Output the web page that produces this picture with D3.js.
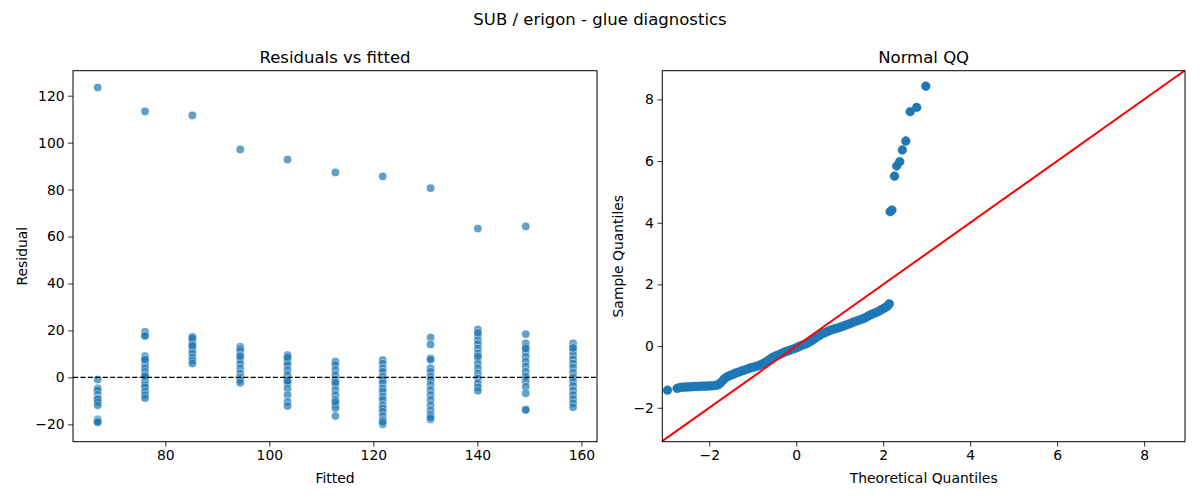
<!DOCTYPE html>
<html>
<head>
<meta charset="utf-8">
<script src="https://cdn.jsdelivr.net/npm/d3@7"></script>
<style>
  html, body { margin: 0; padding: 0; background: #fff; }
  svg { display: block; font-family: "DejaVu Sans", sans-serif; }
</style>
</head>
<body>
<svg id="chart" width="1200" height="500"></svg>
<script>
// ---------------- data ----------------
const suptitle = "SUB / erigon - glue diagnostics";
const leftTitle = "Residuals vs fitted";
const rightTitle = "Normal QQ";

const fittedValues = [67.0, 76.1, 85.2, 94.4, 103.5, 112.7, 121.8, 131.0, 140.1, 149.3, 158.4];

const residualsByFitted = [
  [-0.9, -4.7, -5.5, -7.4, -8.9, -9.2, -9.4, -10.6, -11.9, -17.9, -18.6, -19.2, -19.0],
  [19.4, 18.0, 17.6, 9.1, 8.1, 7.1, 5.3, 3.9, 2.4, 1.0, -0.1, -1.8, -3.2, -4.2, -6.1, -7.5, -8.9, 0.5, 7.6],
  [17.3, 16.5, 15.9, 14.5, 13.0, 11.6, 10.2, 8.5, 7.1, 5.9, 16.9, 13.5],
  [13.0, 12.2, 11.3, 9.5, 7.7, 5.9, 3.9, 1.7, -0.1, -1.1, -2.3, 9.0],
  [9.5, 8.1, 6.7, 5.3, 3.1, 1.0, -1.1, -2.5, -4.7, -7.5, -10.4, -12.2, 8.6, -1.5],
  [6.7, 5.3, 3.1, 1.0, -1.1, -3.2, -5.4, -7.5, -9.6, -11.8, -13.2, -16.5, -2.2, -10.5],
  [7.4, 5.9, 3.9, 2.4, 0.3, -1.1, -2.5, -4.7, -6.1, -8.2, -9.6, -11.8, -13.2, -14.6, -16.5, -18.2, -20.0, -19.0],
  [17.0, 14.0, 8.1, 7.5, 3.9, 2.4, 0.3, -1.1, -3.2, -5.4, -7.5, -9.6, -11.8, -14.0, -16.0, -17.9, -17.2],
  [20.4, 18.0, 15.9, 14.2, 12.3, 10.2, 8.1, 5.9, 3.9, 1.7, -0.4, -2.5, -4.2, -5.7, 19.0, 9.0],
  [18.4, 14.5, 13.0, 10.9, 8.8, 6.7, 4.6, 2.4, 0.3, -1.8, -4.0, -6.8, -13.6, -13.9, 12.2],
  [14.5, 13.0, 11.3, 9.5, 7.7, 5.9, 4.2, 2.0, -0.1, -1.8, -3.6, -5.6, -7.5, -9.3, -11.0, -12.7, 12.5]
];

// one large residual for each of the first ten fitted levels
const outlierResiduals = [123.5, 113.3, 111.6, 97.1, 92.8, 87.3, 85.6, 80.6, 63.4, 64.3];

const qqTheoretical = [
  -2.96, -2.74, -2.67, -2.61, -2.55, -2.49, -2.43, -2.37, -2.31, -2.25, -2.19, -2.13, -2.07, -2.01,
  -1.95, -1.89, -1.83, -1.78, -1.73, -1.68, -1.63, -1.58, -1.52, -1.46, -1.40, -1.34, -1.28, -1.22,
  -1.16, -1.10, -1.04, -0.98, -0.92, -0.86, -0.80, -0.74, -0.68, -0.62, -0.56, -0.50, -0.44, -0.38,
  -0.32, -0.26, -0.20, -0.14, -0.08, -0.02, 0.04, 0.10, 0.16, 0.22, 0.28, 0.34, 0.40, 0.46, 0.52,
  0.58, 0.64, 0.70, 0.76, 0.82, 0.88, 0.94, 1.00, 1.06, 1.12, 1.18, 1.24, 1.30, 1.36, 1.42, 1.48,
  1.54, 1.60, 1.66, 1.72, 1.78, 1.84, 1.90, 1.96, 2.01, 2.06, 2.10, 2.14,
  2.16, 2.20, 2.26, 2.31, 2.38, 2.44, 2.52, 2.62, 2.77, 2.98
];
const qqSample = [
  -1.43, -1.37, -1.34, -1.33, -1.33, -1.32, -1.32, -1.31, -1.31, -1.31, -1.30, -1.30, -1.30, -1.29,
  -1.29, -1.28, -1.27, -1.24, -1.18, -1.10, -1.03, -0.99, -0.95, -0.92, -0.88, -0.85, -0.82, -0.79,
  -0.76, -0.73, -0.70, -0.68, -0.66, -0.63, -0.59, -0.55, -0.50, -0.44, -0.38, -0.34, -0.30, -0.27,
  -0.23, -0.19, -0.16, -0.13, -0.10, -0.07, -0.03, 0.01, 0.04, 0.07, 0.11, 0.16, 0.22, 0.28, 0.33,
  0.39, 0.43, 0.46, 0.50, 0.53, 0.56, 0.58, 0.61, 0.64, 0.67, 0.70, 0.73, 0.77, 0.80, 0.83, 0.86,
  0.89, 0.93, 0.98, 1.02, 1.06, 1.09, 1.13, 1.18, 1.22, 1.26, 1.30, 1.37,
  4.36, 4.41, 5.51, 5.84, 5.98, 6.36, 6.65, 7.60, 7.74, 8.43
];

const fittedTicks = [80, 100, 120, 140, 160];
const residualTicks = [-20, 0, 20, 40, 60, 80, 100, 120];
const qqTicks = [-2, 0, 2, 4, 6, 8];

// ---------------- drawing ----------------
const svg = d3.select("#chart");
const blue = "#1f77b4";
const fmt = d3.format("d");

const L = { x0: 73, x1: 597, y0: 70.7, y1: 441.7 };
const R = { x0: 662.3, x1: 1185, y0: 70.7, y1: 441.7 };

svg.append("text").attr("x", 600).attr("y", 24.5).attr("text-anchor", "middle")
  .attr("font-size", "16.5px").attr("fill", "#000").text(suptitle);

function axes(box, xScale, yScale, xTicks, yTicks) {
  const g = svg.append("g");
  const xa = g.append("g").attr("transform", `translate(0,${box.y1})`)
    .call(d3.axisBottom(xScale).tickValues(xTicks).tickFormat(fmt).tickSizeOuter(0).tickSize(4.9).tickPadding(3.5));
  const ya = g.append("g").attr("transform", `translate(${box.x0},0)`)
    .call(d3.axisLeft(yScale).tickValues(yTicks).tickFormat(fmt).tickSizeOuter(0).tickSize(4.9).tickPadding(3.5));
  [xa, ya].forEach(a => {
    a.select(".domain").remove();
    a.selectAll("text").attr("font-size", "13.9px").attr("fill", "#000")
      .attr("font-family", "DejaVu Sans, sans-serif");
    a.selectAll("line").attr("stroke", "#000").attr("stroke-width", 0.8);
  });
  return g;
}
function frame(box) {
  svg.append("rect").attr("x", box.x0).attr("y", box.y0)
    .attr("width", box.x1 - box.x0).attr("height", box.y1 - box.y0)
    .attr("fill", "none").attr("stroke", "#000").attr("stroke-width", 1);
}

// ----- left panel -----
const xL = d3.scaleLinear().domain([62.25, 163.0]).range([L.x0, L.x1]);
const yL = d3.scaleLinear().domain([-27.4, 130.65]).range([L.y1, L.y0]);

const clipL = svg.append("clipPath").attr("id", "clipL").append("rect")
  .attr("x", L.x0).attr("y", L.y0).attr("width", L.x1 - L.x0).attr("height", L.y1 - L.y0);

const pointsL = [];
residualsByFitted.forEach((arr, i) => arr.forEach(r => pointsL.push({ f: fittedValues[i], r })));
outlierResiduals.forEach((r, i) => pointsL.push({ f: fittedValues[i], r }));

const gL = svg.append("g").attr("clip-path", "url(#clipL)");
gL.selectAll("circle").data(pointsL).join("circle")
  .attr("cx", d => xL(d.f)).attr("cy", d => yL(d.r)).attr("r", 4.1)
  .attr("fill", blue).attr("fill-opacity", 0.7)
  .attr("stroke", "#fff").attr("stroke-width", 0.6).attr("stroke-opacity", 0.7);

gL.append("line").attr("x1", L.x0).attr("x2", L.x1).attr("y1", yL(0)).attr("y2", yL(0))
  .attr("stroke", "#000").attr("stroke-width", 1.1).attr("stroke-dasharray", "5.2,2.2");

axes(L, xL, yL, fittedTicks, residualTicks);
frame(L);

svg.append("text").attr("x", (L.x0 + L.x1) / 2).attr("y", 62.5).attr("text-anchor", "middle")
  .attr("font-size", "16.5px").text(leftTitle);
svg.append("text").attr("x", (L.x0 + L.x1) / 2).attr("y", 482.5).attr("text-anchor", "middle")
  .attr("font-size", "13.9px").text("Fitted");
svg.append("text").attr("transform", `translate(27,${(L.y0 + L.y1) / 2}) rotate(-90)`)
  .attr("text-anchor", "middle").attr("font-size", "13.9px").text("Residual");

// ----- right panel -----
const xR = d3.scaleLinear().domain([-3.08, 8.94]).range([R.x0, R.x1]);
const yR = d3.scaleLinear().domain([-3.10, 8.93]).range([R.y1, R.y0]);

svg.append("clipPath").attr("id", "clipR").append("rect")
  .attr("x", R.x0).attr("y", R.y0).attr("width", R.x1 - R.x0).attr("height", R.y1 - R.y0);

const gR = svg.append("g").attr("clip-path", "url(#clipR)");
const qqPts = qqTheoretical.map((t, i) => ({ t, s: qqSample[i] }));
gR.selectAll("circle").data(qqPts).join("circle")
  .attr("cx", d => xR(d.t)).attr("cy", d => yR(d.s)).attr("r", 4.4)
  .attr("fill", blue).attr("stroke", blue).attr("stroke-width", 0.5);

const lineLo = Math.min(xR.domain()[0], yR.domain()[0]);
const lineHi = Math.max(xR.domain()[1], yR.domain()[1]);
gR.append("line")
  .attr("x1", xR(lineLo)).attr("y1", yR(lineLo)).attr("x2", xR(lineHi)).attr("y2", yR(lineHi))
  .attr("stroke", "#ff0000").attr("stroke-width", 2);

axes(R, xR, yR, qqTicks, qqTicks);
frame(R);

svg.append("text").attr("x", (R.x0 + R.x1) / 2).attr("y", 62.5).attr("text-anchor", "middle")
  .attr("font-size", "16.5px").text(rightTitle);
svg.append("text").attr("x", (R.x0 + R.x1) / 2).attr("y", 482.5).attr("text-anchor", "middle")
  .attr("font-size", "13.9px").text("Theoretical Quantiles");
svg.append("text").attr("transform", `translate(623,${(R.y0 + R.y1) / 2}) rotate(-90)`)
  .attr("text-anchor", "middle").attr("font-size", "13.9px").text("Sample Quantiles");
</script>
</body>
</html>
